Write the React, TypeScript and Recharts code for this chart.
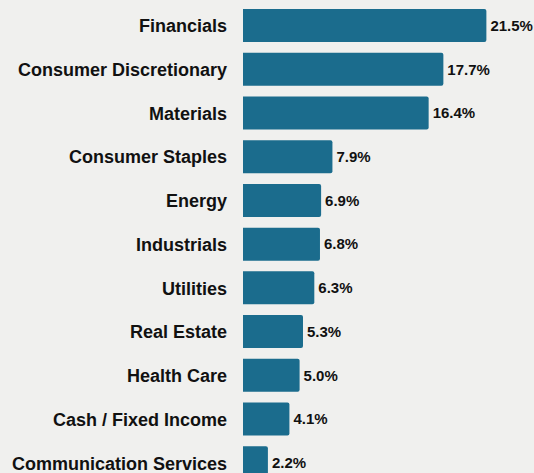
import React from "react";
import { BarChart, Bar, XAxis, YAxis, LabelList } from "recharts";

const sectors = [
  "Financials",
  "Consumer Discretionary",
  "Materials",
  "Consumer Staples",
  "Energy",
  "Industrials",
  "Utilities",
  "Real Estate",
  "Health Care",
  "Cash / Fixed Income",
  "Communication Services",
];
const weights = [21.5, 17.7, 16.4, 7.9, 6.9, 6.8, 6.3, 5.3, 5.0, 4.1, 2.2];

const data = sectors.map((name, i) => ({ name, value: weights[i] }));

export default function App() {
  return (
    <div
      style={{
        position: "absolute",
        left: 0,
        top: 0,
        width: 534,
        height: 473,
        overflow: "hidden",
        background: "#f0f0ee",
        fontFamily: "'Liberation Sans', Arial, sans-serif",
      }}
    >
      <BarChart
        width={534}
        height={490}
        data={data}
        layout="vertical"
        margin={{ top: 4, right: 8, bottom: 5, left: 0 }}
      >
        <XAxis type="number" domain={[0, 25]} hide />
        <YAxis
          type="category"
          dataKey="name"
          width={243}
          axisLine={false}
          tickLine={false}
          tickSize={0}
          tickMargin={16}
          interval={0}
          tick={{ fill: "#111", fontSize: 18, fontWeight: 700 }}
        />
        <Bar
          dataKey="value"
          fill="#1b6c8d"
          barSize={33}
          radius={[0, 2, 2, 0]}
          isAnimationActive={false}
        >
          <LabelList
            dataKey="value"
            position="right"
            offset={4}
            formatter={(v: number) => `${v.toFixed(1)}%`}
            style={{ fill: "#111", fontSize: 15, fontWeight: 700 }}
          />
        </Bar>
      </BarChart>
    </div>
  );
}
